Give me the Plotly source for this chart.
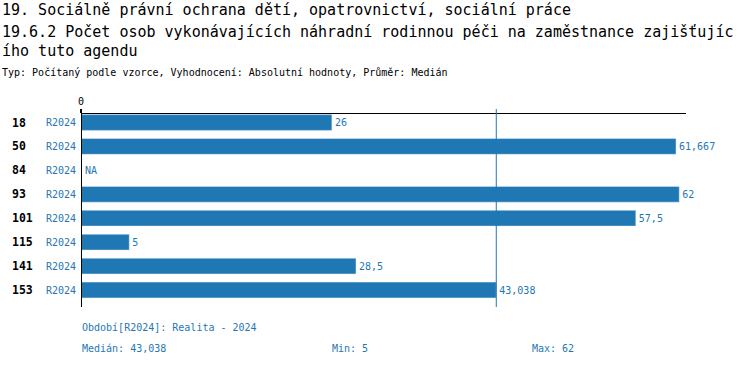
import plotly.graph_objects as go
import statistics

categories = ["18", "50", "84", "93", "101", "115", "141", "153"]
period = "R2024"
values = [26, 61.667, None, 62, 57.5, 5, 28.5, 43.038]

title1 = "19. Sociálně právní ochrana dětí, opatrovnictví, sociální práce"
title2 = "19.6.2 Počet osob vykonávajících náhradní rodinnou péči na zaměstnance zajišťujíc"
title3 = "ího tuto agendu"
subtitle = "Typ: Počítaný podle vzorce, Vyhodnocení: Absolutní hodnoty, Průměr: Medián"
footer_period = "Období[R2024]: Realita - 2024"

BLUE = "#1f77b4"
MONO = "DejaVu Sans Mono"

def fmt(v):
    s = f"{v:.3f}".rstrip("0").rstrip(".")
    return s.replace(".", ",")

valid = [v for v in values if v is not None]
median = statistics.median(valid)
vmin, vmax = min(valid), max(valid)

W, H = 750, 366
ML, MR, MT, MB = 81, 64, 114, 59
PH = H - MT - MB

def py(pix):
    return (H - MB - pix) / PH

def px(pix):
    return (pix - ML) / (W - ML - MR)

fig = go.Figure()
fig.add_trace(go.Bar(
    y=categories, x=[v if v is not None else 0 for v in values],
    orientation="h", marker_color=BLUE, width=0.66,
    text=[fmt(v) if v is not None else "" for v in values],
    textposition="outside", cliponaxis=False,
    textfont=dict(family=MONO, size=10, color=BLUE),
    hoverinfo="skip",
))

ann = []
for i, (c, v) in enumerate(zip(categories, values)):
    ann.append(dict(x=px(10), xref="paper", y=i, yref="y", text=f"<b>{c}</b>",
                    showarrow=False, xanchor="left", yanchor="middle",
                    font=dict(family=MONO, size=11.5, color="black")))
    ann.append(dict(x=px(78), xref="paper", y=i, yref="y", text=period,
                    showarrow=False, xanchor="right", yanchor="middle",
                    font=dict(family=MONO, size=10, color=BLUE)))
    if v is None:
        ann.append(dict(x=0, xref="x", y=i, yref="y", text="NA", xshift=2,
                        showarrow=False, xanchor="left", yanchor="middle",
                        font=dict(family=MONO, size=10, color=BLUE)))

for txt, ypix, size in [(title1, 10, 15), (title2, 32, 15), (title3, 51, 15), (subtitle, 73, 10)]:
    ann.append(dict(x=px(0), xref="paper", y=py(ypix), yref="paper", text=txt,
                    showarrow=False, xanchor="left", yanchor="middle",
                    font=dict(family=MONO, size=size, color="black")))

for txt, xpix, ypix in [(footer_period, 80, 327),
                        (f"Medián: {fmt(median)}", 80, 348),
                        (f"Min: {fmt(vmin)}", 330, 348),
                        (f"Max: {fmt(vmax)}", 530, 348)]:
    ann.append(dict(x=px(xpix), xref="paper", y=py(ypix), yref="paper", text=txt,
                    showarrow=False, xanchor="left", yanchor="middle",
                    font=dict(family=MONO, size=10, color=BLUE)))

fig.add_shape(type="line", x0=median, x1=median, xref="x", y0=0, y1=1 + 5 / PH,
              yref="paper", line=dict(color=BLUE, width=1))
fig.add_shape(type="line", x0=0, x1=0, xref="x", y0=0, y1=1,
              yref="paper", line=dict(color="black", width=2))

fig.update_layout(
    width=W, height=H, margin=dict(l=ML, r=MR, t=MT, b=MB, autoexpand=False),
    paper_bgcolor="white", plot_bgcolor="white",
    showlegend=False, annotations=ann,
    font=dict(family=MONO, size=10),
    xaxis=dict(side="top", range=[0, 62.7], tickvals=[0], ticktext=["0"],
               showgrid=False, zeroline=False, showline=True, linecolor="black",
               linewidth=1, ticks="outside", ticklen=4, tickwidth=2, tickcolor="black",
               automargin=False,
               tickfont=dict(family=MONO, size=10, color="black")),
    yaxis=dict(type="category", range=[7.71, -0.355], showticklabels=False,
               showgrid=False, zeroline=False, showline=False, ticks="",
               automargin=False),
)
fig.write_html("out.html", config={"displayModeBar": False},
               post_script="document.body.style.margin='0';")
